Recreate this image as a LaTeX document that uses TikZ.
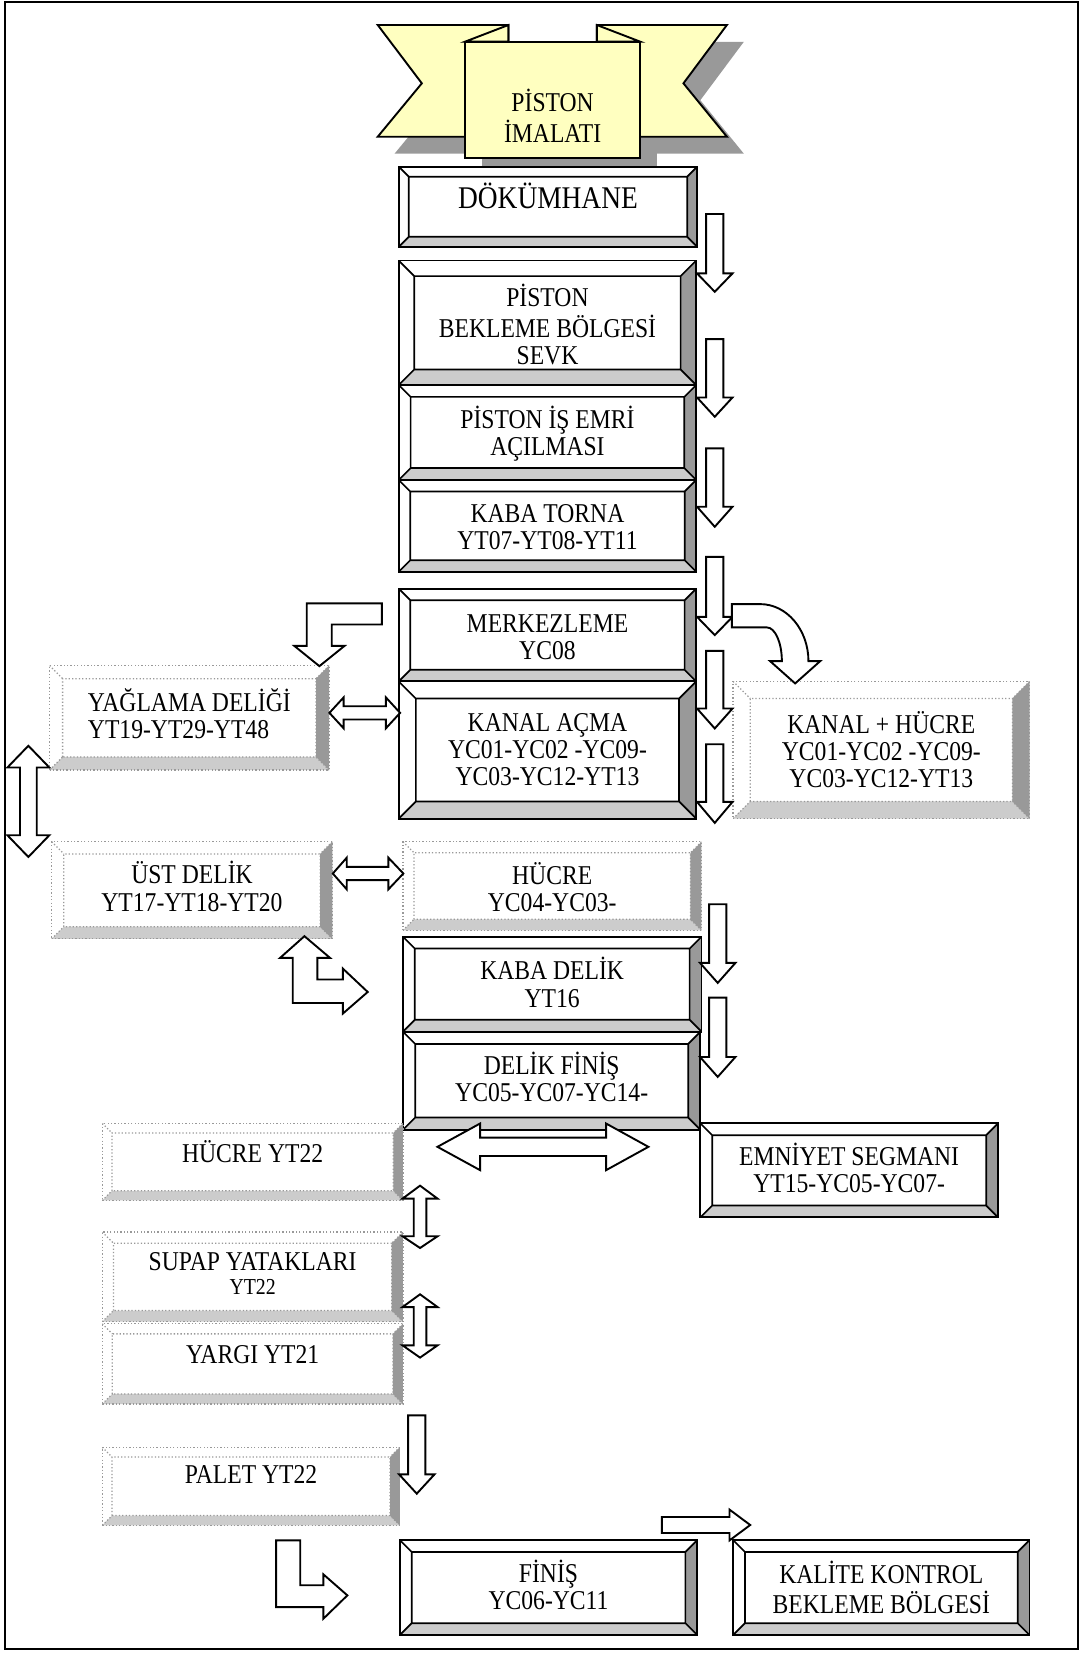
\documentclass[tikz,border=0pt]{standalone}
\usepackage{fontspec}
\setmainfont{Liberation Serif}
\usepackage{graphicx}
\usetikzlibrary{calc,fit}

\definecolor{bevdark}{gray}{0.6}
\definecolor{bevlight}{gray}{0.8}
\definecolor{ribbon}{RGB}{255,255,192}

\newcommand\tx[2][0pt]{\raisebox{\dimexpr#1-3.2pt\relax}[0pt][0pt]{\scalebox{1}[1.15]{\begin{tabular}{@{}c@{}}#2\end{tabular}}}}
\newcommand\txl[2][0pt]{\raisebox{\dimexpr#1-3.2pt\relax}[0pt][0pt]{\scalebox{1}[1.15]{\begin{tabular}{@{}l@{}}#2\end{tabular}}}}

\newcommand\bevelpic{%
  \path let \p1=(path picture bounding box.south west),
            \p2=(path picture bounding box.north east),
            \p3=({0.125*(\y2-\y1)},0pt) in
    coordinate (bsw) at (\p1) coordinate (bne) at (\p2)
    coordinate (isw) at (\x1+\x3,\y1+\x3) coordinate (ine) at (\x2-\x3,\y2-\x3);
  \fill[bevlight] (bsw) -- (bsw -| bne) -- (isw -| ine) -- (isw) -- cycle;
  \fill[bevdark] (bsw -| bne) -- (bne) -- (ine) -- (isw -| ine) -- cycle;
  \draw[bevline] (isw) rectangle (ine) (bsw) -- (isw) (bne) -- (ine)
    (bsw -| bne) -- (isw -| ine) (bsw |- bne) -- (isw |- ine);}

\newcommand\downblk[4]{\draw[blk] ({#1-8.2},#2) -- ({#1+8.2},#2) -- ({#1+8.2},#3) -- ({#1+16.8},#3) -- (#1,#4) -- ({#1-16.8},#3) -- ({#1-8.2},#3) -- cycle;}
\newcommand\vdblk[7]{\draw[blk] (#1,#2) -- ({#1+#6},#3) -- ({#1+#7},#3) -- ({#1+#7},#4) -- ({#1+#6},#4) -- (#1,#5) -- ({#1-#6},#4) -- ({#1-#7},#4) -- ({#1-#7},#3) -- ({#1-#6},#3) -- cycle;}
\newcommand\hdblk[7]{\draw[blk] (#2,#1) -- (#3,{#1-#6}) -- (#3,{#1-#7}) -- (#4,{#1-#7}) -- (#4,{#1-#6}) -- (#5,#1) -- (#4,{#1+#6}) -- (#4,{#1+#7}) -- (#3,{#1+#7}) -- (#3,{#1+#6}) -- cycle;}

\begin{document}
\begin{tikzpicture}[x=0.5pt, y=-0.5pt, line join=miter,
  bfont/.style={font=\fontsize{11.2}{11.2}\selectfont},
  sbox/.style={draw, line width=0.9pt, fill=white, inner sep=0pt, bfont,
    bevline/.style={solid, black, line width=0.8pt}, path picture={\bevelpic}},
  dbox/.style={draw=black!40, densely dotted, line width=0.6pt, fill=white, inner sep=0pt, bfont,
    bevline/.style={densely dotted, black!40, line width=0.6pt}, path picture={\bevelpic}},
  blk/.style={draw, fill=white, line width=0.9pt},
  rib/.style={draw, fill=ribbon, line width=0.9pt}]
\useasboundingbox (0,0) rectangle (1026,1568);
\draw[line width=1.1pt] (5,2) rectangle (1022,1563);

\begin{scope}[shift={(16,16)}]
\fill[bevdark] (358.1,23.7) -- (482,23.7) -- (482,129.6) -- (358.1,129.6) -- (399.9,79) -- cycle;
\fill[bevdark] (689.1,23.7) -- (565.8,23.7) -- (565.8,129.6) -- (689.1,129.6) -- (647.9,79) -- cycle;
\fill[bevdark] (440.9,39.5) rectangle (606.9,150.1);
\end{scope}
\draw[rib] (358.1,23.7) -- (482,23.7) -- (482,129.6) -- (358.1,129.6) -- (399.9,79) -- cycle;
\draw[rib] (689.1,23.7) -- (565.8,23.7) -- (565.8,129.6) -- (689.1,129.6) -- (647.9,79) -- cycle;
\draw[rib] (440.9,39.5) -- (482,23.7) -- (482,39.5) -- cycle;
\draw[rib] (606.9,39.5) -- (565.8,23.7) -- (565.8,39.5) -- cycle;
\node[rib, bfont, inner sep=0pt, fit={(440.9,39.5) (606.9,150.1)}] (title) {\tx[-9.3pt]{PİSTON\\İMALATI}};

\node[sbox, fit={(378,158) (661,234)}, font=\fontsize{13}{13}\selectfont] (dok) {\tx[2.5pt]{DÖKÜMHANE}};
\node[sbox, fit={(378,247) (660,365)}] (bek) {\tx[-2.5pt]{PİSTON\\BEKLEME BÖLGESİ\\SEVK}};
\node[sbox, fit={(378,365) (660,455)}] (emri) {\tx[-1pt]{PİSTON İŞ EMRİ\\AÇILMASI}};
\node[sbox, fit={(378,455) (660,542)}] (torna) {\tx[-2pt]{KABA TORNA\\YT07-YT08-YT11}};
\node[sbox, fit={(378,558) (660,646)}] (merk) {\tx[-2.5pt]{MERKEZLEME\\YC08}};
\node[sbox, fit={(378,646) (660,776)}] (kanal) {\tx[-1.5pt]{KANAL AÇMA\\YC01-YC02 -YC09-\\YC03-YC12-YT13}};
\node[dbox, fit={(695,646) (976,776)}] (kanhuc) {\tx[-1.5pt]{KANAL + HÜCRE\\YC01-YC02 -YC09-\\YC03-YC12-YT13}};
\node[dbox, fit={(47,631) (312,730)}] (yag) {\txl[0pt]{YAĞLAMA DELİĞİ\\YT19-YT29-YT48}};
\node[dbox, fit={(49,798) (315,890)}] (ust) {\tx{ÜST DELİK\\YT17-YT18-YT20}};
\node[dbox, fit={(382,798) (665,882)}] (huc) {\tx[-2.5pt]{HÜCRE\\YC04-YC03-}};
\node[sbox, fit={(382,888) (665,978)}] (kdel) {\tx[-1pt]{KABA DELİK\\YT16}};
\node[sbox, fit={(382,978) (664,1071)}] (dfin) {\tx{DELİK FİNİŞ\\YC05-YC07-YC14-}};
\node[sbox, fit={(664,1065) (946,1154)}] (emn) {\tx[-0.8pt]{EMNİYET SEGMANI\\YT15-YC05-YC07-}};
\node[dbox, fit={(97,1065) (382,1138)}] (huc22) {\tx[3pt]{HÜCRE YT22}};
\node[dbox, fit={(97,1168) (382,1253)}] (supap) {\tx{SUPAP YATAKLARI\\[-1.5pt]{\fontsize{9.4}{9.4}\selectfont YT22}}};
\node[dbox, fit={(97,1255) (382,1331)}] (yargi) {\tx[3pt]{YARGI YT21}};
\node[dbox, fit={(97,1372) (379,1446)}] (palet) {\tx[4pt]{PALET YT22}};
\node[sbox, fit={(379,1460) (661,1550)}] (finis) {\tx[-0.5pt]{FİNİŞ\\YC06-YC11}};
\node[sbox, fit={(695,1460) (976,1550)}] (kalite) {\tx[-1.75pt]{KALİTE KONTROL\\BEKLEME BÖLGESİ}};

\downblk{677.6}{202.9}{259.2}{276.6}
\downblk{677.6}{321.5}{376.8}{395.1}
\downblk{677.6}{425.1}{480.4}{499.4}
\downblk{677.6}{527.9}{584.8}{602.1}
\downblk{677.6}{617}{671.7}{690.6}
\downblk{677.6}{705.5}{760.2}{780.1}
\downblk{680.4}{857.2}{912.8}{931.8}
\downblk{680.4}{945.7}{1002}{1020.9}
\downblk{395.1}{1341.7}{1397.7}{1416}
\draw[blk] (693.8,572.7) -- (720.7,572.7) .. controls (745.9,572.7) and (766.4,597) .. (766.4,626.8) -- (777.5,626.8) -- (753.8,647.9) -- (730.1,626.8) -- (741.2,626.8) .. controls (741.2,609.1) and (734.8,594.8) .. (727,594.8) -- (693.8,594.8) -- cycle;
\draw[blk] (362,572) -- (290.8,572) -- (290.8,612.3) -- (279,612.3) -- (302.8,631.5) -- (326.6,612.3) -- (314.5,612.3) -- (314.5,592) -- (362,592) -- cycle;
\hdblk{675.8}{312.3}{325.8}{365.8}{379.3}{14.7}{6.3}
\vdblk{26.9}{707}{727.6}{791.8}{812.4}{19.9}{7.9}
\hdblk{828.1}{315.5}{328.7}{368.2}{382.4}{15}{6.3}
\draw[blk] (288.6,887.5) -- (312.9,908.1) -- (300.9,908.1) -- (300.9,928.6) -- (325,928.6) -- (325,918.2) -- (348.6,940.4) -- (325,960.9) -- (325,950.8) -- (277.5,950.8) -- (277.5,908.1) -- (265.5,908.1) -- cycle;
\hdblk{1087.2}{414.7}{455.1}{574.6}{614.7}{22.1}{8.7}
\vdblk{398.2}{1124}{1136.3}{1172}{1183.1}{16.6}{6}
\vdblk{398.2}{1227}{1239.1}{1275.4}{1287}{16.6}{6}
\draw[blk] (627.4,1438.1) -- (691.6,1438.1) -- (691.6,1431.1) -- (711.2,1445.7) -- (691.6,1460.3) -- (691.6,1453.3) -- (627.4,1453.3) -- cycle;
\draw[blk] (261.7,1460.2) -- (284.6,1460.2) -- (284.6,1502.8) -- (306.6,1502.8) -- (306.6,1492.5) -- (329.3,1512.4) -- (306.6,1534.5) -- (306.6,1523.5) -- (261.7,1523.5) -- cycle;
\end{tikzpicture}
\end{document}
